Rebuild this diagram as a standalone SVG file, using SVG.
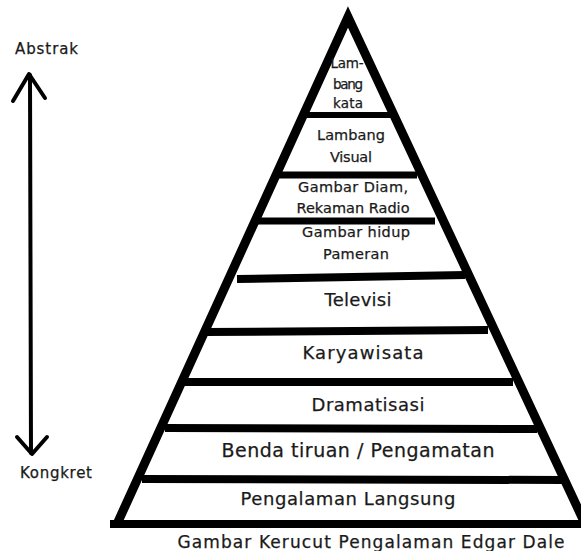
<svg xmlns="http://www.w3.org/2000/svg" width="581" height="551" viewBox="0 0 581 551">
<style>
text{font-family:"DejaVu Sans","Liberation Sans",sans-serif;fill:#1a1a1a;text-anchor:middle;stroke:#1a1a1a;stroke-width:0.25}
.s{font-size:13.5px}.m{font-size:14.5px}.l{font-size:18px}.xl{font-size:19px}
.bar{stroke:#000;stroke-width:7;stroke-linecap:butt}
.edge{stroke:#000;fill:none;stroke-width:9;stroke-linejoin:miter}
.arr{stroke:#000;fill:none;stroke-width:4;stroke-linecap:round;stroke-linejoin:round}
</style>
<rect width="581" height="551" fill="#fff"/>
<g id="connectors">
<path class="edge" d="M117,524 L348,17 L588,530"/>
<line class="bar" x1="110" y1="524" x2="581" y2="524" style="stroke-width:8"/>
<line class="bar" x1="303" y1="115" x2="390" y2="115" style="stroke-width:6"/>
<line class="bar" x1="278" y1="175" x2="417" y2="175"/>
<line class="bar" x1="257" y1="221" x2="435" y2="221"/>
<line class="bar" x1="237" y1="279" x2="465" y2="275" style="stroke-width:8"/>
<line class="bar" x1="205" y1="332" x2="488" y2="330" style="stroke-width:8"/>
<line class="bar" x1="183" y1="382" x2="513" y2="382" style="stroke-width:8"/>
<line class="bar" x1="165" y1="428" x2="537" y2="429" style="stroke-width:8"/>
<line class="bar" x1="142" y1="479" x2="562" y2="480" style="stroke-width:8"/>
<path class="arr" d="M30,75 L31,453"/>
<path class="arr" d="M13,101 L29,74 L45,98"/>
<path class="arr" d="M17,437 L32,454 L47,437"/>
</g>
<g id="abstrak"><text x="46.5" y="54" textLength="63" style="font-size:15px">Abstrak</text></g>
<g id="kongkret"><text x="56" y="478" textLength="72" style="font-size:15px">Kongkret</text></g>
<g id="lambang-kata">
<text class="s" x="347" y="68" textLength="33">Lam-</text>
<text class="s" x="348" y="89" textLength="30">bang</text>
<text class="s" x="348" y="108" textLength="30">kata</text>
</g>
<g id="lambang-visual">
<text class="m" x="351" y="140" textLength="68">Lambang</text>
<text class="m" x="351" y="162" textLength="42">Visual</text>
</g>
<g id="gambar-diam">
<text class="m" x="353" y="192" textLength="110">Gambar Diam,</text>
<text class="m" x="353" y="213" textLength="113">Rekaman Radio</text>
</g>
<g id="gambar-hidup">
<text class="m" x="356" y="237" textLength="108">Gambar hidup</text>
<text class="m" x="356" y="259" textLength="66">Pameran</text>
</g>
<g id="televisi"><text class="l" x="358" y="306" textLength="67">Televisi</text></g>
<g id="karyawisata"><text class="l" x="363" y="359" textLength="121">Karyawisata</text></g>
<g id="dramatisasi"><text class="l" x="368" y="411" textLength="113">Dramatisasi</text></g>
<g id="benda-tiruan"><text class="xl" x="358" y="457" textLength="273">Benda tiruan / Pengamatan</text></g>
<g id="pengalaman-langsung"><text class="l" x="348" y="505" textLength="215">Pengalaman Langsung</text></g>
<g id="caption"><text x="371" y="548" textLength="387" style="font-size:17px">Gambar Kerucut Pengalaman Edgar Dale</text></g>
</svg>
